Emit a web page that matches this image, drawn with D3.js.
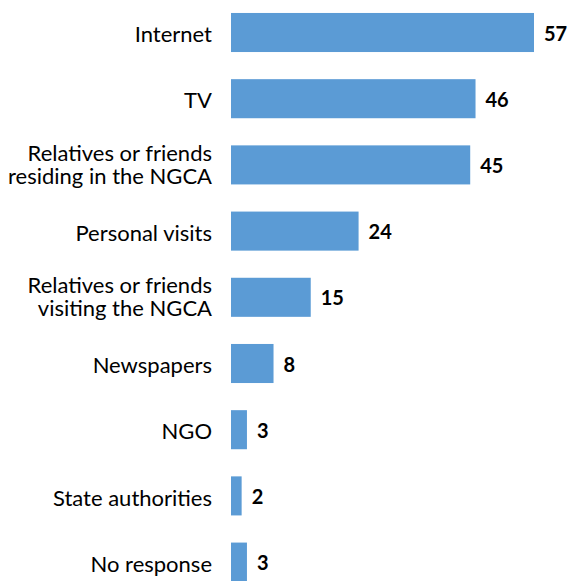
<!DOCTYPE html>
<html>
<head>
<meta charset="utf-8">
<script src="https://cdn.jsdelivr.net/npm/d3@7"></script>
<style>
  html, body { margin: 0; padding: 0; background: #fff; }
  svg { display: block; }
  text { font-family: Lato, "Open Sans", sans-serif; fill: #000; }
</style>
</head>
<body>
<svg id="chart" width="570" height="581"></svg>
<script>
// Sources of information (%), one entry per row, top to bottom
const categories = [
  "Internet",
  "TV",
  "Relatives or friends|residing in the NGCA",
  "Personal visits",
  "Relatives or friends|visiting the NGCA",
  "Newspapers",
  "NGO",
  "State authorities",
  "No response"
];
const values = [57, 46, 45, 24, 15, 8, 3, 2, 3];

const svg = d3.select("#chart");
const x0 = 231;

const x = d3.scaleLinear().domain([0, 57]).range([x0, 534]);
const y = d3.scaleBand()
  .domain(categories)
  .range([-0.6, 595.2])
  .paddingInner(0.41)
  .paddingOuter(0.205);

const rows = svg.selectAll("g.row")
  .data(categories.map((c, i) => ({ c, v: values[i] })))
  .join("g")
  .attr("class", "row");

rows.append("rect")
  .attr("x", x(0))
  .attr("y", d => y(d.c))
  .attr("width", d => x(d.v) - x(0))
  .attr("height", y.bandwidth())
  .attr("fill", "#5B9BD5");

// Category labels, right-aligned against the bars; "|" marks a line break
rows.append("text")
  .attr("text-anchor", "end")
  .attr("font-size", 22)
  .each(function(d) {
    const lines = d.c.split("|");
    const cy = y(d.c) + y.bandwidth() / 2 + (lines.length > 1 ? -0.5 : 2);
    const lh = 23;
    const t = d3.select(this);
    lines.forEach((ln, i) => {
      t.append("tspan")
        .attr("x", 212)
        .attr("y", cy + (i - (lines.length - 1) / 2) * lh)
        .attr("dy", "0.35em")
        .text(ln);
    });
  });

// Value labels at the end of each bar
rows.append("text")
  .attr("x", d => x(d.v) + 10)
  .attr("y", d => y(d.c) + y.bandwidth() / 2 + 1)
  .attr("dy", "0.35em")
  .attr("font-size", 20)
  .attr("font-weight", "bold")
  .text(d => d.v);
</script>
</body>
</html>
